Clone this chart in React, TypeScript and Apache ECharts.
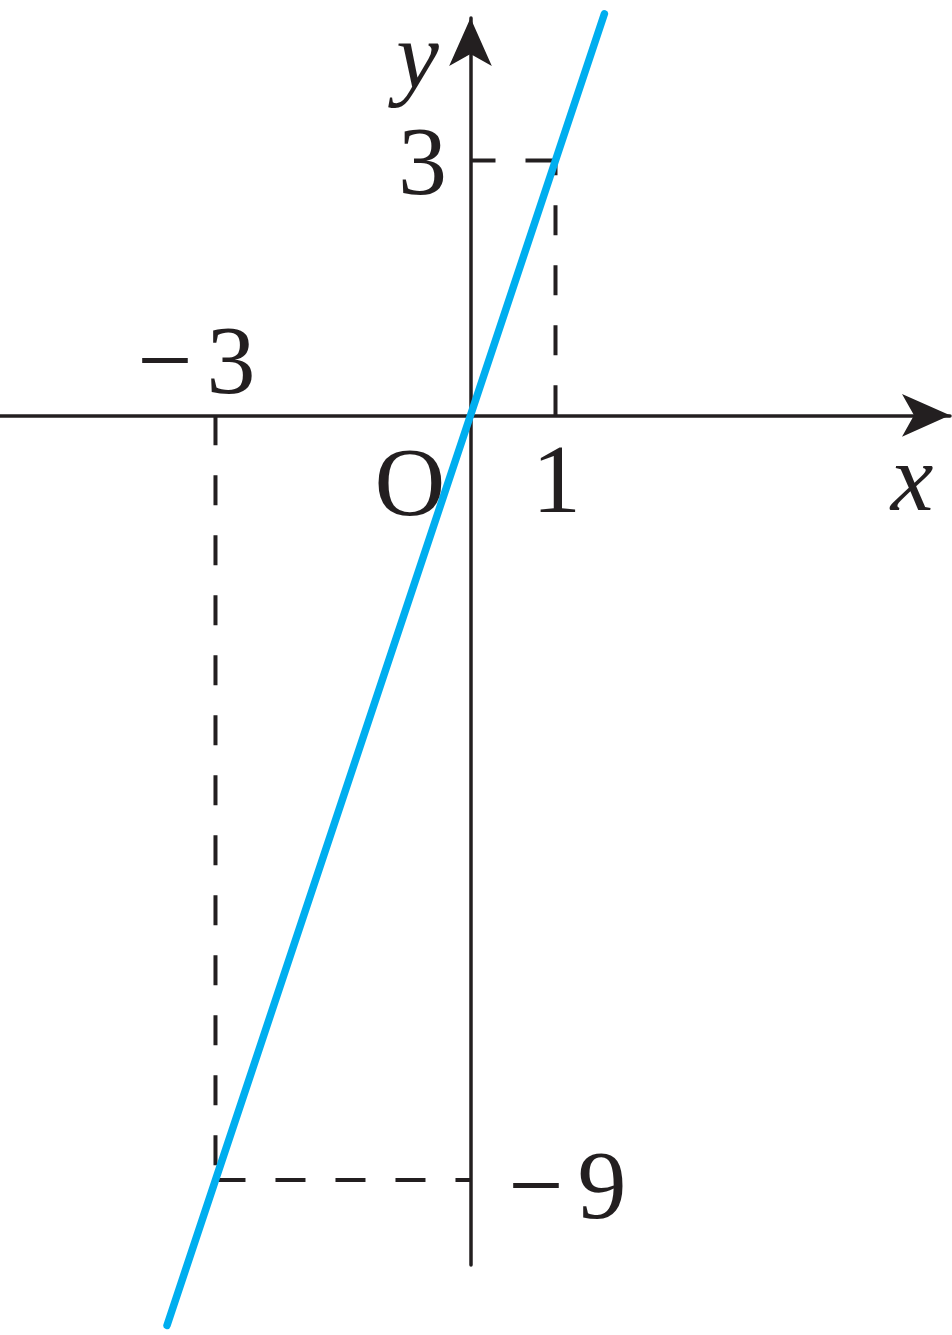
import React, { useEffect, useRef } from "react";
import * as echarts from "echarts";

// ---- data ----
const X_MIN = -5.535;
const X_MAX = 5.641;
const Y_MIN = -10;
const Y_MAX = 4.676;

// line y = 3x
const LINE_X = [-3.57, -3, 0, 1, 1.575];
const LINE_Y = [-10.71, -9, 0, 3, 4.725];

// guide points (dashed projections onto the axes)
const GUIDE_POINTS = [
  [1, 3],
  [-3, -9],
];

// tick labels and where they belong
const TICK_TEXT = ["−3", "O", "1", "3", "−9"];
const TICK_AT = [
  [-3, 0],
  [0, 0],
  [1, 0],
  [0, 3],
  [0, -9],
];
const AXIS_NAMES = ["x", "y"];

// ---- layout / style ----
const INK = "#231f20";
const BLUE = "#00aeef";
const FONT = "'Liberation Serif', 'DejaVu Serif', serif";
const TICK_OFFSETS = [
  [-19, -55.5],
  [-60.5, 67],
  [1, 64],
  [-48, 0.5],
  [97, 4.5],
];
const NAME_OFFSETS = [
  [-38, 62.5],
  [-53, 37],
];

export default function App() {
  const ref = useRef<HTMLDivElement>(null);

  useEffect(() => {
    document.body.style.margin = "0";
    const chart = echarts.init(ref.current!, null, { renderer: "svg" });

    const dashStyle = { color: INK, width: 4, type: [30, 30] as any, cap: "butt" as const };
    const guideSeries: any[] = [];
    GUIDE_POINTS.forEach(([gx, gy]) => {
      guideSeries.push({
        type: "line",
        data: [
          [gx, 0],
          [gx, gy],
        ],
        symbol: "none",
        silent: true,
        lineStyle: dashStyle,
        z: 1,
      });
      guideSeries.push({
        type: "line",
        data: [
          [gx, gy],
          [0, gy],
        ],
        symbol: "none",
        silent: true,
        lineStyle: dashStyle,
        z: 1,
      });
    });

    const labelData = TICK_TEXT.map((t, i) => ({
      value: TICK_AT[i],
      name: t,
      label: { offset: TICK_OFFSETS[i] },
    }));
    const nameAnchors = [
      [X_MAX, 0],
      [0, Y_MAX],
    ];
    const nameData = AXIS_NAMES.map((t, i) => ({
      value: nameAnchors[i],
      name: t,
      label: { offset: NAME_OFFSETS[i] },
    }));

    const axisLineCommon = {
      show: true,
      onZero: true,
      symbol: ["none", "arrow"],
      symbolSize: [32, 48],
      lineStyle: { color: INK, width: 3.5 },
    };

    const tickFormatter = (p: any) => {
      const s: string = p.name;
      if (s.startsWith("−")) return "{m|−}{d|" + s.slice(1) + "}";
      return "{d|" + s + "}";
    };

    const textBase = {
      color: INK,
      fontFamily: FONT,
      fontSize: 98,
      opacity: 1,
    };

    chart.setOption({
      animation: false,
      backgroundColor: "#ffffff",
      grid: { left: 0, right: 2, top: 18, bottom: 70, containLabel: false },
      xAxis: {
        type: "value",
        min: X_MIN,
        max: X_MAX,
        axisLine: axisLineCommon,
        axisTick: { show: false },
        axisLabel: { show: false },
        splitLine: { show: false },
      },
      yAxis: {
        type: "value",
        min: Y_MIN,
        max: Y_MAX,
        axisLine: axisLineCommon,
        axisTick: { show: false },
        axisLabel: { show: false },
        splitLine: { show: false },
      },
      series: [
        ...guideSeries,
        {
          type: "line",
          data: LINE_X.map((x, i) => [x, LINE_Y[i]]),
          symbol: "none",
          clip: false,
          silent: true,
          lineStyle: { color: BLUE, width: 7.5, cap: "round" },
          z: 3,
        },
        {
          type: "scatter",
          data: labelData,
          symbolSize: 0,
          silent: true,
          clip: false,
          itemStyle: { color: INK, opacity: 1 },
          label: {
            show: true,
            position: "inside",
            formatter: tickFormatter,
            align: "center",
            verticalAlign: "middle",
            ...textBase,
            rich: {
              m: { ...textBase, padding: [0, 14, 0, 0] },
              d: { ...textBase },
            },
          },
          z: 4,
        },
        {
          type: "scatter",
          data: nameData,
          symbolSize: 0,
          silent: true,
          clip: false,
          itemStyle: { color: INK, opacity: 1 },
          label: {
            show: true,
            position: "inside",
            formatter: "{b}",
            ...textBase,
            fontStyle: "italic",
            fontSize: 96,
            align: "center",
            verticalAlign: "middle",
          },
          z: 4,
        },
      ],
    });

    return () => chart.dispose();
  }, []);

  return <div ref={ref} style={{ width: 952, height: 1335, background: "#fff" }} />;
}
